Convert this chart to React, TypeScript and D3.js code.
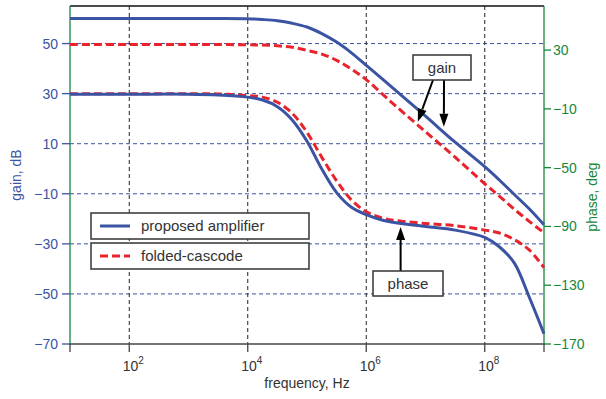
import React from "react";
import * as d3 from "d3";

// frequency points, as powers of ten
const freqExp = [1, 2, 3, 3.5, 4, 4.25, 4.5, 4.75, 5, 5.25, 5.5, 5.75, 6, 6.25, 6.5, 7, 7.5, 8, 8.25, 8.5, 8.75, 9];

// gain, dB
const gainProposed = [60, 60, 60, 60, 59.9, 59.6, 59.1, 58.1, 56.6, 54, 50.6, 46.3, 41.3, 36.3, 31.2, 21, 10.6, 0.8, -4.6, -10.3, -16, -22.4];
const gainFolded = [49.6, 49.6, 49.6, 49.6, 49.5, 49.4, 49.1, 48.5, 47.3, 45.8, 43.3, 39.8, 35.6, 30.3, 25, 14.8, 4.6, -6, -11, -16.2, -21, -25.6];

// phase, deg
const phaseProposed = [0, 0, 0, -0.5, -2, -4, -8.5, -17.5, -32, -51, -67, -77, -82, -85.5, -87.5, -90, -92.5, -97.5, -104, -115, -138, -163];
const phaseFolded = [0.3, 0.3, 0.3, 0.2, -1, -2, -5.5, -13, -26, -43, -59, -72, -80, -84, -86, -88, -89.5, -92.5, -94.5, -99, -106, -118];

const gainTicks = [50, 30, 10, -10, -30, -50, -70];
const phaseTicks = [30, -10, -50, -90, -130, -170];
const freqTickExp = [2, 4, 6, 8];

const legendLabels = ["proposed amplifier", "folded-cascode"];

const BLUE = "#3b53a3";
const RED = "#e8232b";
const GREEN = "#17873a";
const FONT = "'Liberation Sans', Arial, Helvetica, sans-serif";

const W = 606;
const H = 399;
const margin = { top: 6, right: 62, bottom: 55, left: 70 };

const App = () => {
  const x = d3.scaleLog().domain([10, 1e9]).range([margin.left, W - margin.right]);
  const yG = d3.scaleLinear().domain([-70, 65]).range([H - margin.bottom, margin.top]);
  const yP = d3.scaleLinear().domain([-170, 60]).range([H - margin.bottom, margin.top]);

  const x0 = margin.left;
  const x1 = W - margin.right;
  const y0 = margin.top;
  const y1 = H - margin.bottom;

  const pts = (vals: number[]) => freqExp.map((e, i) => ({ f: Math.pow(10, e), v: vals[i] }));

  const gLine = d3
    .line<{ f: number; v: number }>()
    .x((d) => x(d.f))
    .y((d) => yG(d.v))
    .curve(d3.curveCatmullRom.alpha(0.5));
  const pLine = d3
    .line<{ f: number; v: number }>()
    .x((d) => x(d.f))
    .y((d) => yP(d.v))
    .curve(d3.curveCatmullRom.alpha(0.5));

  // annotation tips in data units
  const gainTipA = { x: x(Math.pow(10, 6.87)), y: yG(18.8) };
  const gainTipB = { x: x(Math.pow(10, 7.31)), y: yG(16.8) };
  const phaseTip = { x: x(Math.pow(10, 6.58)), y: yP(-90.4) };

  const arrow = (sx: number, sy: number, tx: number, ty: number, key: string) => {
    const ang = Math.atan2(ty - sy, tx - sx);
    const len = 13;
    const half = 4.5;
    const bx = tx - len * Math.cos(ang);
    const by = ty - len * Math.sin(ang);
    const px = -Math.sin(ang) * half;
    const py = Math.cos(ang) * half;
    return (
      <g key={key}>
        <line x1={sx} y1={sy} x2={bx} y2={by} stroke="#000" strokeWidth={2} />
        <polygon points={`${tx},${ty} ${bx + px},${by + py} ${bx - px},${by - py}`} fill="#000" />
      </g>
    );
  };

  return (
    <svg width={W} height={H} style={{ position: "absolute", left: 0, top: 0, background: "#fff" }} fontFamily={FONT}>
      {/* horizontal grid (gain) */}
      {gainTicks
        .filter((t) => t !== -70)
        .map((t) => (
          <line key={"hg" + t} x1={x0} x2={x1} y1={yG(t)} y2={yG(t)} stroke={BLUE} strokeWidth={1} strokeDasharray="4,3" />
        ))}
      {/* vertical grid */}
      {freqTickExp.map((e) => (
        <line key={"vg" + e} x1={x(Math.pow(10, e))} x2={x(Math.pow(10, e))} y1={y0} y2={y1} stroke="#222" strokeWidth={1} strokeDasharray="4,3" />
      ))}

      {/* frame */}
      <line x1={x0} x2={x1} y1={y0} y2={y0} stroke="#111" strokeWidth={1.5} />
      <line x1={x0 - 1} x2={x1 + 1} y1={y1} y2={y1} stroke="#444" strokeWidth={1.5} />
      <line x1={x0} x2={x0} y1={y0} y2={y1} stroke={GREEN} strokeWidth={1.3} />
      <line x1={x1} x2={x1} y1={y0} y2={y1} stroke={GREEN} strokeWidth={1.3} />

      {/* left gain ticks */}
      {gainTicks.map((t) => (
        <g key={"gt" + t}>
          <line x1={x0 - 8} x2={x0} y1={yG(t)} y2={yG(t)} stroke={BLUE} strokeWidth={1.3} />
          <text x={x0 - 12} y={yG(t)} dy="0.36em" textAnchor="end" fontSize={14} fill={BLUE}>
            {t < 0 ? "\u2212" + Math.abs(t) : t}
          </text>
        </g>
      ))}
      {/* right phase ticks */}
      {phaseTicks.map((t) => (
        <g key={"pt" + t}>
          <line x1={x1} x2={x1 + 7} y1={yP(t)} y2={yP(t)} stroke={GREEN} strokeWidth={1.3} />
          <text x={x1 + 9} y={yP(t)} dy="0.36em" textAnchor="start" fontSize={14} fill={GREEN}>
            {t < 0 ? "\u2212" + Math.abs(t) : t}
          </text>
        </g>
      ))}
      {/* bottom ticks */}
      {[1, ...freqTickExp, 9].map((e) => (
        <line key={"bt" + e} x1={x(Math.pow(10, e))} x2={x(Math.pow(10, e))} y1={y1} y2={y1 + 8} stroke="#444" strokeWidth={1.3} />
      ))}
      {freqTickExp.map((e) => (
        <text key={"bl" + e} x={x(Math.pow(10, e)) + 4} y={y1 + 27} textAnchor="middle" fontSize={14} fill="#333">
          10
          <tspan dy={-7} fontSize={10}>
            {e}
          </tspan>
        </text>
      ))}

      {/* axis titles */}
      <text x={307} y={388} textAnchor="middle" fontSize={14} fill="#333">
        frequency, Hz
      </text>
      <text transform={`translate(21,${(y0 + y1) / 2}) rotate(-90)`} textAnchor="middle" fontSize={14} fill={BLUE}>
        gain, dB
      </text>
      <text transform={`translate(597,${(y0 + y1) / 2 + 22}) rotate(-90)`} textAnchor="middle" fontSize={14} fill={GREEN}>
        phase, deg
      </text>

      {/* curves */}
      <path d={gLine(pts(gainFolded)) ?? ""} fill="none" stroke={RED} strokeWidth={3} strokeDasharray="8,4" />
      <path d={pLine(pts(phaseFolded)) ?? ""} fill="none" stroke={RED} strokeWidth={3} strokeDasharray="8,4" />
      <path d={gLine(pts(gainProposed)) ?? ""} fill="none" stroke={BLUE} strokeWidth={3} />
      <path d={pLine(pts(phaseProposed)) ?? ""} fill="none" stroke={BLUE} strokeWidth={3} />

      {/* legend */}
      {legendLabels.map((lab, i) => {
        const by = 213 + i * 30;
        return (
          <g key={lab}>
            <rect x={91} y={by} width={218} height={26} fill="#fff" stroke="#333" strokeWidth={1.5} />
            <line
              x1={100}
              x2={130}
              y1={by + 13}
              y2={by + 13}
              stroke={i === 0 ? BLUE : RED}
              strokeWidth={3}
              strokeDasharray={i === 0 ? undefined : "8,4"}
            />
            <text x={141} y={by + 13} dy="0.35em" fontSize={15} fill="#333">
              {lab}
            </text>
          </g>
        );
      })}

      {/* annotations */}
      {arrow(433, 80, gainTipA.x, gainTipA.y, "ga")}
      {arrow(444, 80, gainTipB.x, gainTipB.y, "gb")}
      <rect x={413} y={55} width={58} height={25} fill="#fff" stroke="#333" strokeWidth={1.5} />
      <text x={442} y={67.5} dy="0.35em" textAnchor="middle" fontSize={15} fill="#333">
        gain
      </text>

      {arrow(phaseTip.x, 271, phaseTip.x, phaseTip.y, "pa")}
      <rect x={373} y={271} width={70} height={25} fill="#fff" stroke="#333" strokeWidth={1.5} />
      <text x={408} y={283.5} dy="0.35em" textAnchor="middle" fontSize={15} fill="#333">
        phase
      </text>
    </svg>
  );
};

export default App;
